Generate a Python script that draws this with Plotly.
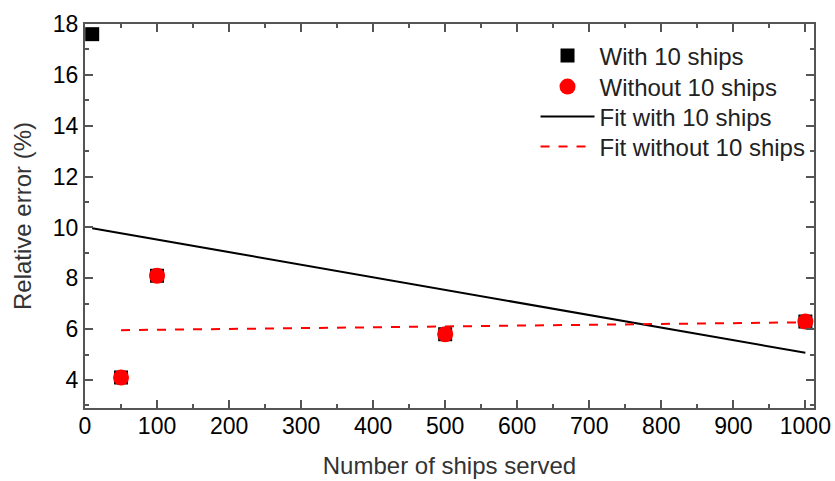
import plotly.graph_objects as go

# Data
ships_with = [10, 50, 100, 500, 1000]
err_with = [17.6, 4.1, 8.1, 5.8, 6.3]
ships_without = [50, 100, 500, 1000]
err_without = [4.1, 8.1, 5.8, 6.3]
fit_with_x = [10, 1000]
fit_with_y = [9.97, 5.07]
fit_without_x = [50, 1000]
fit_without_y = [5.96, 6.27]

x_ticks = list(range(0, 1001, 100))
y_ticks = list(range(4, 19, 2))

FONT = "Liberation Sans, Arial, sans-serif"
AX = "#555555"

fig = go.Figure()
fig.add_trace(go.Scatter(x=ships_with, y=err_with, mode="markers", name="With 10 ships", legend="legend",
                         marker=dict(symbol="square", size=14, color="black", line=dict(width=0))))
fig.add_trace(go.Scatter(x=ships_without, y=err_without, mode="markers", name="Without 10 ships", legend="legend2",
                         marker=dict(symbol="circle", size=16, color="#ff0000", line=dict(width=0))))
fig.add_trace(go.Scatter(x=fit_with_x, y=fit_with_y, mode="lines", name="Fit with 10 ships", legend="legend3",
                         line=dict(color="black", width=2)))
fig.add_trace(go.Scatter(x=fit_without_x, y=fit_without_y, mode="lines", name="Fit without 10 ships", legend="legend4",
                         line=dict(color="#ff0000", width=2, dash="dash")))

axis_common = dict(showline=True, linecolor=AX, linewidth=2, mirror="ticks", ticks="inside",
                   ticklen=8, tickwidth=1.5, tickcolor=AX, showgrid=False, zeroline=False, automargin=False,
                   tickfont=dict(family=FONT, size=23, color="black"))

fig.update_xaxes(range=[0, 1012], tickvals=x_ticks, ticklabelstandoff=-4,
                 title=dict(text="Number of ships served", font=dict(family=FONT, size=24, color="#333333"), standoff=20),
                 minor=dict(ticks="inside", ticklen=4, dtick=50, tick0=50, tickcolor=AX, tickwidth=1.5),
                 **axis_common)
fig.update_yaxes(range=[2.9, 18], tickvals=y_ticks,
                 title=dict(text="Relative error (%)", font=dict(family=FONT, size=24, color="#333333"), standoff=14),
                 minor=dict(ticks="inside", ticklen=4, dtick=2, tick0=3, tickcolor=AX, tickwidth=1.5),
                 **axis_common)

leg_common = dict(x=0.618, xanchor="left", yanchor="middle", bgcolor="rgba(0,0,0,0)",
                  font=dict(family=FONT, size=24, color="#222222"), itemwidth=54)
fig.update_layout(
    width=835, height=481,
    margin=dict(l=85, r=21, t=24, b=73),
    plot_bgcolor="white", paper_bgcolor="white",
    font=dict(family=FONT, color="#222222"),
    legend=dict(y=0.917, **leg_common),
    legend2=dict(y=0.836, **leg_common),
    legend3=dict(y=0.758, **leg_common),
    legend4=dict(y=0.680, **leg_common),
    showlegend=True,
)

fig.write_html("out.html", config={"displayModeBar": False},
               post_script="document.body.style.margin='0';document.body.style.padding='0';")
